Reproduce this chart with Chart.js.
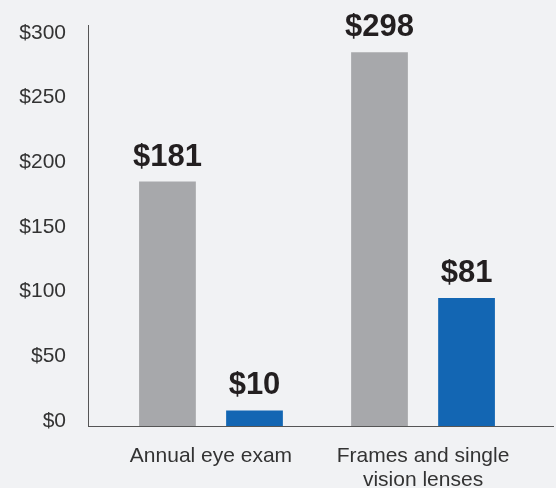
<!DOCTYPE html>
<html>
<head>
<meta charset="utf-8">
<script src="https://cdn.jsdelivr.net/npm/chart.js@4"></script>
<style>
  html, body { margin: 0; padding: 0; background: #f1f2f4; }
  #wrap { width: 556px; height: 488px; }
</style>
</head>
<body>
<div id="wrap"><canvas id="costChart" width="556" height="488"></canvas></div>
<script>
// categories (x positions 1, 2 on a linear axis)
const categories = [["Annual eye exam"], ["Frames and single", "vision lenses"]];
// bar heights as drawn in the picture
const grayValues = [189, 289];
const blueValues = [12, 99];
// printed value labels
const grayLabels = ["$181", "$298"];
const blueLabels = ["$10", "$81"];
const yTicks = [0, 50, 100, 150, 200, 250, 300];

const toPoints = (vals) => vals.map((v, i) => ({ x: i + 1, y: v }));

const valueLabels = {
  id: "valueLabels",
  afterDatasetsDraw(chart) {
    const ctx = chart.ctx;
    const texts = [grayLabels, blueLabels];
    ctx.save();
    ctx.font = "bold 31px 'Liberation Sans', Arial, sans-serif";
    ctx.fillStyle = "#231f20";
    ctx.textAlign = "center";
    ctx.textBaseline = "alphabetic";
    chart.data.datasets.forEach((ds, d) => {
      chart.getDatasetMeta(d).data.forEach((bar, i) => {
        ctx.fillText(texts[d][i], bar.x, bar.y - 16);
      });
    });
    ctx.restore();
  },
};

new Chart(document.getElementById("costChart"), {
  type: "bar",
  data: {
    datasets: [
      {
        data: toPoints(grayValues),
        backgroundColor: "#a7a8ab",
        barPercentage: 0.652,
        categoryPercentage: 0.821,
      },
      {
        data: toPoints(blueValues),
        backgroundColor: "#1366b3",
        barPercentage: 0.652,
        categoryPercentage: 0.821,
      },
    ],
  },
  options: {
    responsive: false,
    animation: false,
    layout: { padding: { top: 25, right: 3, left: 0, bottom: 0 } },
    plugins: { legend: { display: false }, tooltip: { enabled: false } },
    scales: {
      x: {
        type: "linear",
        offset: false,
        min: 0.42,
        max: 2.613,
        grid: { display: false },
        border: { display: true, color: "#555", width: 1 },
        afterBuildTicks: (scale) => {
          scale.ticks = categories.map((_, i) => ({ value: i + 1 }));
        },
        afterFit: (scale) => {
          scale.height = 62;
          scale.paddingLeft = 0;
          scale.paddingRight = 0;
        },
        ticks: {
          padding: 10,
          color: "#333",
          font: { family: "'Liberation Sans', Arial, sans-serif", size: 21, lineHeight: 1.15 },
          callback: (v) => categories[Math.round(v) - 1] || "",
        },
      },
      y: {
        min: 0,
        max: 310,
        grid: { display: false },
        border: { display: true, color: "#555", width: 1 },
        afterBuildTicks: (scale) => {
          scale.ticks = yTicks.map((v) => ({ value: v }));
        },
        afterFit: (scale) => {
          scale.width = 88;
          scale.paddingTop = 0;
          scale.paddingBottom = 0;
        },
        ticks: {
          padding: 14,
          labelOffset: -5,
          color: "#333",
          font: { family: "'Liberation Sans', Arial, sans-serif", size: 21 },
          callback: (v) => "$" + v,
        },
      },
    },
  },
  plugins: [valueLabels],
});
</script>
</body>
</html>
